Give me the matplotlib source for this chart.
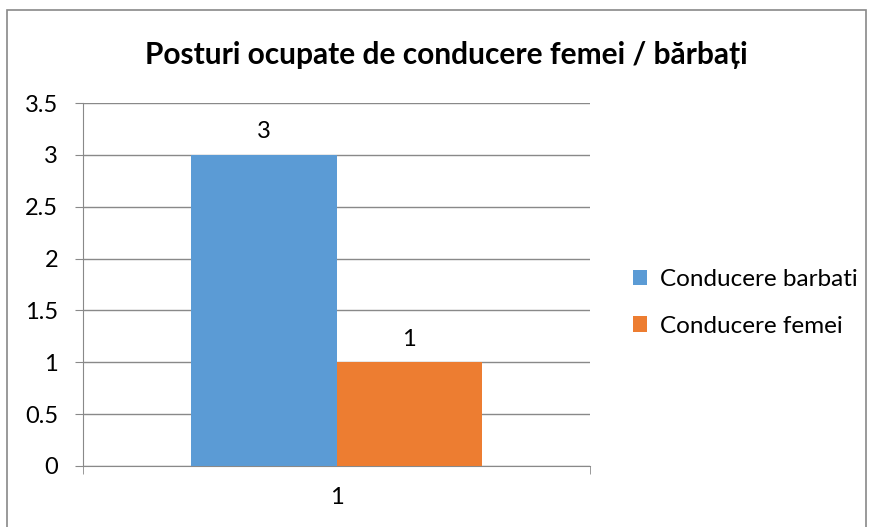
import matplotlib.pyplot as plt
from matplotlib.patches import Rectangle

# data
categories = [1]
series_names = ["Conducere barbati", "Conducere femei"]
barbati = [3]
femei = [1]
colors = ["#5B9BD5", "#ED7D31"]
yticks = [0, 0.5, 1, 1.5, 2, 2.5, 3, 3.5]

plt.rcParams['font.family'] = ['Lato', 'DejaVu Sans']

fig = plt.figure(figsize=(8.7, 5.27), dpi=100)
ax = fig.add_axes([83/870, 1-466/527, 507/870, 363/527])

# chart border
fig.patches.append(Rectangle((7/870, -0.05), 859/870, 1.05-10/527, transform=fig.transFigure,
                             fill=False, edgecolor='#898989', linewidth=1.2))

w = 0.286
b1 = ax.bar([c - w/2 for c in categories], barbati, width=w, color=colors[0], label=series_names[0], zorder=3)
b2 = ax.bar([c + w/2 for c in categories], femei, width=w, color=colors[1], label=series_names[1], zorder=3)
for bars in (b1, b2):
    for r in bars:
        ax.annotate('{:g}'.format(r.get_height()), (r.get_x() + r.get_width()/2, r.get_height()),
                    xytext=(0, 9), textcoords='offset points', ha='center', va='bottom', fontsize=17)

ax.set_xlim(0.5, 1.5)
ax.set_ylim(0, 3.5)
ax.set_yticks(yticks)
ax.set_yticklabels(['{:g}'.format(t) for t in yticks])
ax.set_xticks(categories)
ax.set_xticks([0.5, 1.5], minor=True)
ax.tick_params(axis='x', which='major', length=0, pad=15, labelsize=17)
ax.tick_params(axis='x', which='minor', length=6, color='#898989', direction='out')
ax.tick_params(axis='y', length=6, color='#898989', direction='out', pad=12, labelsize=17)
ax.yaxis.grid(True, color='#898989', linewidth=1, zorder=0)
for s in ['top', 'right']:
    ax.spines[s].set_visible(False)
ax.spines['left'].set_color('#898989')
ax.spines['bottom'].set_color('#898989')

fig.text(446/870, 1-55/527, 'Posturi ocupate de conducere femei / bărbați', ha='center', va='center',
         fontsize=21.5, fontweight='bold')

fig.legend(handles=[b1, b2], labels=series_names, loc='center left', bbox_to_anchor=(611/870, 1-303/527),
           frameon=False, fontsize=17.5, handlelength=0.6, handleheight=0.6, handletextpad=0.5, labelspacing=1.05)

plt.savefig('out.png', dpi=100)
